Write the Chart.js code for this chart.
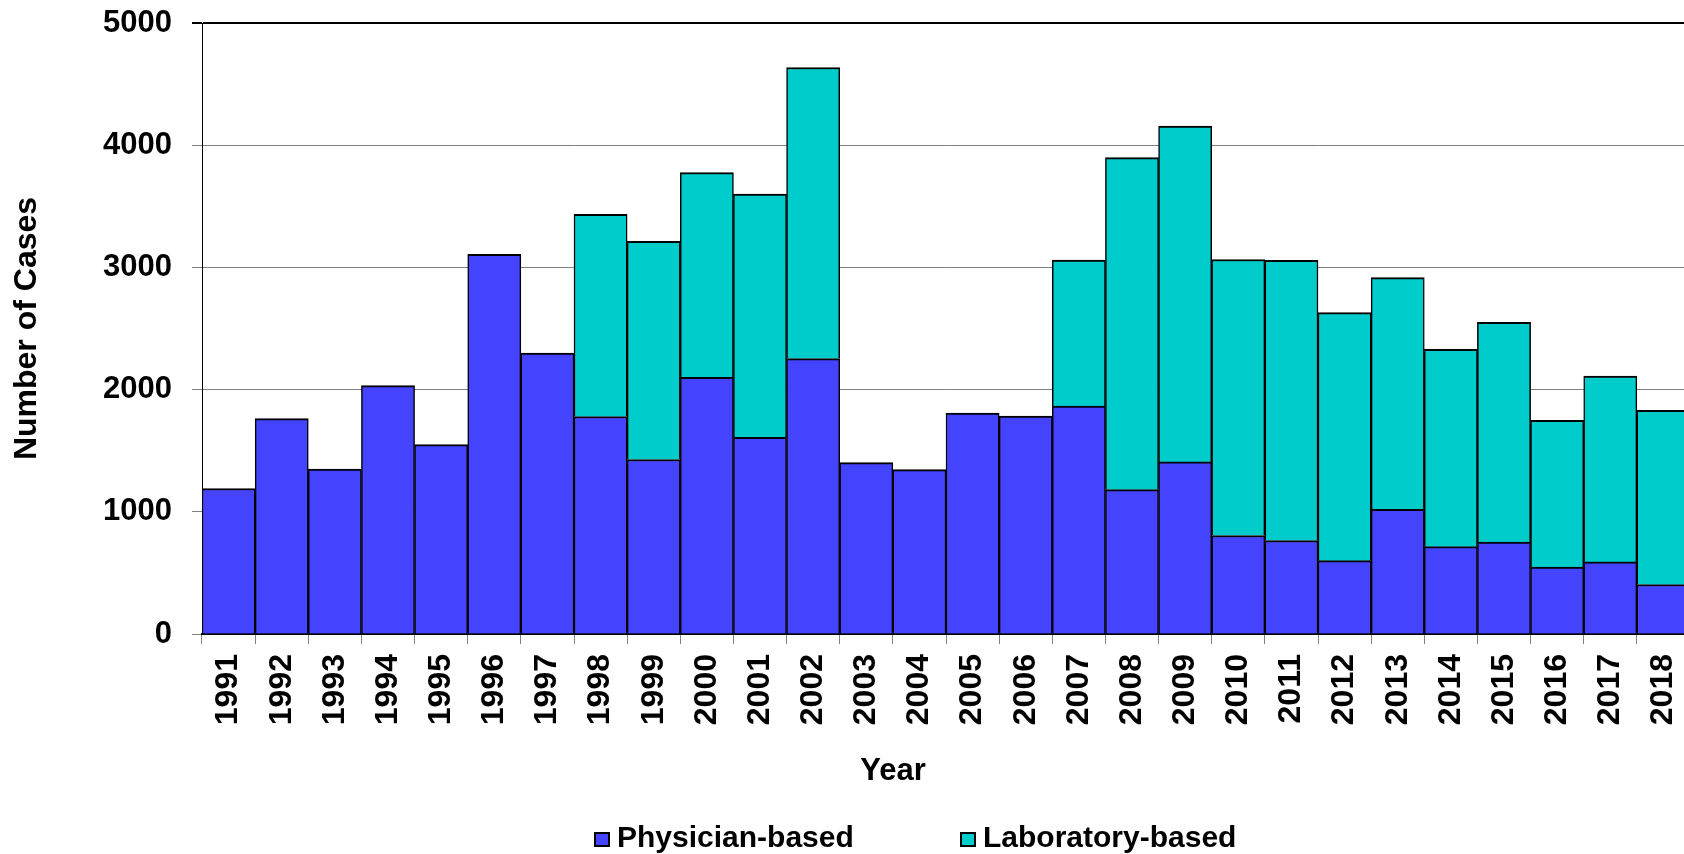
<!DOCTYPE html>
<html>
<head>
<meta charset="utf-8">
<script src="https://cdn.jsdelivr.net/npm/chart.js@4.4.1/dist/chart.umd.min.js"></script>
<style>
  html, body { margin: 0; padding: 0; background: #ffffff; overflow: hidden; }
  #wrap { position: relative; width: 1684px; height: 854px; overflow: hidden; }
  canvas { display: block; }
</style>
</head>
<body>
<div id="wrap"><canvas id="c" width="1690" height="854"></canvas></div>
<script>
// ---- data ----
const years = ['1991','1992','1993','1994','1995','1996','1997','1998','1999','2000',
               '2001','2002','2003','2004','2005','2006','2007','2008','2009','2010',
               '2011','2012','2013','2014','2015','2016','2017','2018'];
const physicianBased = [1191, 1763, 1350, 2033, 1550, 3107, 2298, 1780, 1428, 2100,
                        1610, 2254, 1402, 1345, 1808, 1783, 1866, 1182, 1408, 806,
                        765, 600, 1020, 715, 752, 547, 590, 405];
const laboratoryBased = [null, null, null, null, null, null, null, 1655, 1786, 1675,
                         1990, 2382, null, null, null, null, 1193, 2716, 2748, 2259,
                         2292, 2030, 1896, 1615, 1799, 1201, 1521, 1425];
const seriesNames = ['Physician-based', 'Laboratory-based'];
const yTicks = [0, 1000, 2000, 3000, 4000, 5000];
const xTitle = 'Year';
const yTitle = 'Number of Cases';

const FONT = "'Liberation Sans', Arial, Helvetica, sans-serif";

const overlayText = {
  id: 'overlayText',
  afterDraw(chart, args, opts) {
    const ctx = chart.ctx;
    ctx.save();
    // x axis title
    ctx.fillStyle = '#000';
    ctx.font = 'bold ' + opts.titleSize + 'px ' + FONT;
    ctx.textAlign = 'center';
    ctx.textBaseline = 'alphabetic';
    ctx.fillText(opts.xTitle, opts.xTitleX, opts.xTitleY);
    // legend
    ctx.font = 'bold ' + opts.legendSize + 'px ' + FONT;
    ctx.textAlign = 'left';
    chart.data.datasets.forEach((ds, i) => {
      const x = opts.legendX[i], y = opts.legendY;
      ctx.fillStyle = ds.backgroundColor;
      ctx.fillRect(x, y, opts.boxW, opts.boxH);
      ctx.strokeStyle = '#000';
      ctx.lineWidth = 2;
      ctx.strokeRect(x + 1, y + 1, opts.boxW - 2, opts.boxH - 2);
      ctx.fillStyle = '#000';
      ctx.fillText(ds.label, x + opts.textGap, opts.legendBaseline);
    });
    ctx.restore();
  }
};

const barBorder = { top: 2, left: 1.5, right: 1.5, bottom: 0 };

new Chart(document.getElementById('c'), {
  type: 'bar',
  data: {
    labels: years,
    datasets: [
      {
        label: seriesNames[0],
        data: physicianBased,
        backgroundColor: '#4444FF',
        borderColor: '#000000',
        borderWidth: barBorder,
        borderSkipped: 'start',
        categoryPercentage: 1.0,
        barPercentage: 1.0
      },
      {
        label: seriesNames[1],
        data: laboratoryBased,
        backgroundColor: '#00CCCC',
        borderColor: '#000000',
        borderWidth: barBorder,
        borderSkipped: 'start',
        categoryPercentage: 1.0,
        barPercentage: 1.0
      }
    ]
  },
  options: {
    responsive: false,
    animation: false,
    devicePixelRatio: 1,
    layout: { padding: { top: 23, left: 0, right: 0, bottom: 0 } },
    plugins: {
      legend: { display: false },
      tooltip: { enabled: false },
      overlayText: {
        xTitle: xTitle,
        titleSize: 31,
        xTitleX: 893,
        xTitleY: 780,
        legendSize: 30,
        legendX: [594, 960],
        legendY: 832,
        legendBaseline: 847,
        boxW: 16,
        boxH: 15,
        textGap: 23
      }
    },
    scales: {
      x: {
        stacked: true,
        offset: true,
        afterFit: (scale) => {
          scale.height = 220;
          scale.paddingLeft = 0;
          scale.paddingRight = 0;
        },
        grid: {
          offset: true,
          drawOnChartArea: false,
          drawTicks: true,
          tickLength: 10,
          color: '#808080',
          lineWidth: 1
        },
        border: { display: true, color: '#000000', width: 2 },
        ticks: {
          autoSkip: false,
          minRotation: 90,
          maxRotation: 90,
          padding: 10,
          color: '#000000',
          font: { family: FONT, size: 32, weight: 'bold' }
        }
      },
      y: {
        stacked: true,
        min: 0,
        max: 5000,
        afterFit: (scale) => {
          scale.width = 202;
          scale.paddingTop = 0;
          scale.paddingBottom = 0;
        },
        afterBuildTicks: (scale) => { scale.ticks = yTicks.map(v => ({ value: v })); },
        grid: {
          drawTicks: true,
          tickLength: 10,
          color: (c) => (c.tick && c.tick.value === 5000 ? '#000000' : '#808080'),
          lineWidth: (c) => (c.tick && c.tick.value === 5000 ? 2 : 1)
        },
        border: { display: true, color: '#000000', width: 1 },
        ticks: {
          padding: 20,
          color: '#000000',
          callback: (v) => String(v),
          font: { family: FONT, size: 31, weight: 'bold' }
        },
        title: {
          display: true,
          text: yTitle,
          color: '#000000',
          padding: { top: 8, bottom: 0 },
          font: { family: FONT, size: 32, weight: 'bold' }
        }
      }
    }
  },
  plugins: [overlayText]
});
</script>
</body>
</html>
